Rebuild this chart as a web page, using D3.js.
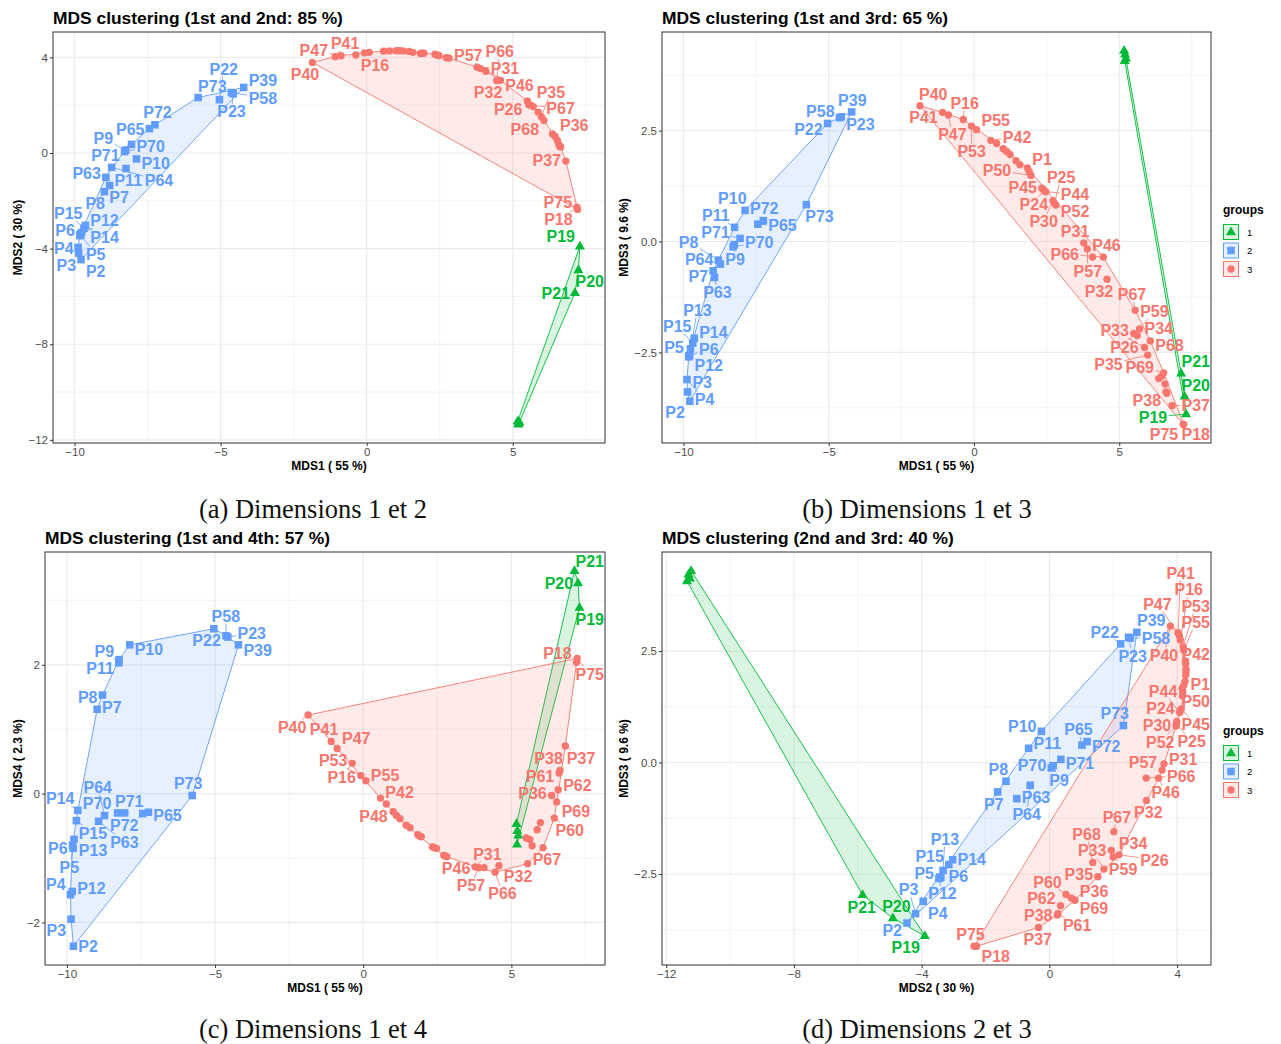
<!DOCTYPE html>
<html><head><meta charset="utf-8">
<script src="https://cdn.jsdelivr.net/npm/d3@7"></script>
<style>body{margin:0;background:#fff}svg{display:block}</style>
</head><body>
<svg id="c" width="1281" height="1044"></svg>
<script>
// ---------------- DATA ----------------
const names = ["P1","P2","P3","P4","P5","P6","P7","P8","P9","P10","P11","P12","P13","P14","P15","P16","P17","P18","P19","P20","P21","P22","P23","P24","P25","P26","P27","P28","P29","P30","P31","P32","P33","P34","P35","P36","P37","P38","P39","P40","P41","P42","P43","P44","P45","P46","P47","P48","P49","P50","P51","P52","P53","P54","P55","P56","P57","P58","P59","P60","P61","P62","P63","P64","P65","P66","P67","P68","P69","P70","P71","P72","P73","P74","P75"];
const groups = [3,2,2,2,2,2,2,2,2,2,2,2,2,2,2,3,1,3,1,1,1,2,2,3,3,3,1,1,1,3,3,3,3,3,3,3,3,3,2,3,3,3,3,3,3,3,3,3,3,3,3,3,3,3,3,3,3,2,3,3,3,3,2,2,2,3,3,3,3,2,2,2,2,3,3];
const mds1 = [1.84,-9.78,-9.86,-9.88,-9.79,-9.81,-8.98,-8.80,-8.25,-7.88,-8.24,-9.82,-9.76,-9.63,-9.68,-0.37,5.17,7.20,7.30,7.25,7.13,-5.04,-4.57,2.40,2.77,5.50,5.20,5.23,5.19,2.72,3.78,4.58,5.87,5.62,5.98,6.36,6.82,6.64,-4.21,-1.86,-1.08,0.58,1.01,2.47,2.34,4.08,-0.88,0.78,1.12,1.96,1.24,2.82,-0.08,1.45,0.09,1.58,3.90,-4.63,5.70,6.45,6.61,6.58,-8.93,-8.73,-7.44,4.45,5.55,6.07,6.53,-8.29,-8.05,-7.25,-5.77,1.90,7.22];
const mds2 = [4.16,-4.46,-4.19,-3.95,-3.43,-3.40,-1.62,-1.36,0.12,-0.25,-0.65,-3.46,-3.33,-3.03,-3.15,4.10,-11.22,-2.28,-3.90,-4.90,-5.85,2.23,2.48,4.10,3.98,2.18,-11.30,-11.26,-11.35,3.99,3.59,3.04,1.71,2.00,1.52,0.80,-0.34,0.25,2.74,3.79,4.03,4.26,4.28,4.08,4.13,3.42,4.07,4.27,4.28,4.17,4.27,3.97,4.19,4.25,4.21,4.21,3.53,2.53,1.94,0.69,0.27,0.35,-1.02,-0.60,1.02,3.03,2.02,1.36,0.52,0.06,0.36,1.18,2.32,4.18,-2.36];
const mds3 = [1.66,-3.60,-3.39,-3.11,-2.57,-2.58,-0.66,-0.42,-0.07,0.70,0.32,-2.60,-2.42,-2.18,-2.29,2.75,4.30,-4.12,-3.89,-3.49,-2.97,2.66,2.81,1.16,0.86,-2.07,4.22,4.13,4.07,0.92,-0.03,-0.85,-2.39,-2.12,-2.56,-3.09,-3.70,-3.42,2.92,3.06,2.91,2.28,2.09,1.12,1.20,-0.35,2.85,2.21,2.03,1.49,1.96,0.82,2.60,1.82,2.52,1.73,-0.17,2.79,-1.97,-3.04,-3.39,-3.21,-0.81,-0.51,0.39,-0.35,-1.55,-2.24,-2.96,-0.12,0.07,0.47,0.83,1.58,-4.12];
const mds4 = [-0.64,-2.37,-1.95,-1.57,-0.85,-0.80,1.31,1.53,2.03,2.31,2.08,-1.52,-0.71,-0.26,-0.42,0.47,-0.47,2.04,2.89,3.27,3.46,2.56,2.43,-0.84,-0.97,-0.69,-0.58,-0.65,-0.79,-0.96,-1.14,-1.12,-0.56,-0.71,-0.45,-0.03,0.74,0.36,2.31,1.22,0.81,-0.07,-0.28,-0.85,-0.83,-1.15,0.70,-0.16,-0.34,-0.67,-0.39,-0.98,0.28,-0.49,0.20,-0.53,-1.15,2.45,-0.81,-0.38,0.32,0.06,-0.43,-0.34,-0.31,-1.22,-1.09,-0.84,-0.13,-0.30,-0.30,-0.29,-0.03,-0.66,2.10];
const dimShare = ["55","30","9.6","2.3"];
const groupLevels = ["1","2","3"];
const panelTitles = ["MDS clustering (1st and 2nd: 85 %)","MDS clustering (1st and 3rd: 65 %)","MDS clustering (1st and 4th: 57 %)","MDS clustering (2nd and 3rd: 40 %)"];
const captions = ["(a) Dimensions 1 et 2","(b) Dimensions 1 et 3","(c) Dimensions 1 et 4","(d) Dimensions 2 et 3"];
const ticksA_x = [-10,-5,0,5], ticksA_y = [-12,-8,-4,0,4];
const ticksB_x = [-10,-5,0,5], ticksB_y = [-2.5,0,2.5];
const ticksC_x = [-10,-5,0,5], ticksC_y = [-2,0,2];
const ticksD_x = [-12,-8,-4,0,4], ticksD_y = [-2.5,0,2.5];
const labelsA = ["P73","P58","P39","P22","P23","P71","P72","P65","P70","P11","P10","P64","P9","P63","P7","P8","P14","P6","P15","P5","P12","P4","P3","P2","P47","P40","P41","P16","P57","P31","P46","P66","P32","P26","P35","P67","P68","P36","P37","P18","P75","P19","P20","P21"];
const labelsB = ["P23","P39","P58","P22","P73","P10","P11","P72","P9","P65","P8","P70","P71","P7","P64","P63","P14","P15","P13","P6","P12","P5","P3","P4","P2","P41","P16","P53","P40","P47","P55","P42","P1","P50","P45","P24","P30","P44","P52","P25","P31","P57","P46","P66","P32","P67","P26","P59","P68","P34","P69","P33","P35","P38","P37","P75","P18","P21","P20","P19"];
const labelsC = ["P22","P23","P10","P58","P39","P11","P9","P8","P7","P14","P70","P73","P15","P64","P72","P71","P65","P13","P63","P6","P5","P12","P4","P3","P2","P40","P41","P47","P53","P16","P42","P55","P48","P57","P31","P46","P32","P66","P67","P36","P38","P61","P62","P60","P69","P37","P75","P18","P21","P20","P19"];
const labelsD = ["P39","P23","P58","P22","P73","P10","P72","P11","P65","P9","P71","P8","P70","P7","P64","P63","P15","P14","P5","P13","P6","P12","P4","P2","P3","P40","P41","P47","P16","P53","P42","P55","P1","P50","P45","P44","P24","P30","P25","P52","P31","P66","P57","P46","P67","P32","P59","P26","P68","P33","P34","P69","P35","P60","P62","P36","P61","P38","P18","P37","P75","P21","P20","P19"];

// ---------------- STYLE / LAYOUT ----------------
const colors = {1:"#00BA38",2:"#619CFF",3:"#F8766D"};
const SANS = "'Liberation Sans', Arial, Helvetica, sans-serif";
const SERIF = "'Liberation Serif', 'Times New Roman', serif";
const LABEL_SIZE = 16;
const dims = [mds1, mds2, mds3, mds4];
const panels = [
  {xi:0, yi:1, x0:53,  x1:605,  y0:32,  y1:443, xt:ticksA_x, yt:ticksA_y, yf:d3.format("d"),   labels:labelsA, legend:false},
  {xi:0, yi:2, x0:662, x1:1211, y0:32,  y1:443, xt:ticksB_x, yt:ticksB_y, yf:d3.format(".1f"), labels:labelsB, legend:true},
  {xi:0, yi:3, x0:45,  x1:605,  y0:552, y1:965, xt:ticksC_x, yt:ticksC_y, yf:d3.format("d"),   labels:labelsC, legend:false},
  {xi:1, yi:2, x0:662, x1:1211, y0:552, y1:965, xt:ticksD_x, yt:ticksD_y, yf:d3.format(".1f"), labels:labelsD, legend:true}
];
const capCenters = [313, 917, 313, 917];
const capBase = [518, 518, 1038, 1038];
const svg = d3.select("#c");
const minus = s => s.replace("-", "\u2212");

function expand(arr){ const e = d3.extent(arr); const r = e[1]-e[0]; return [e[0]-0.05*r, e[1]+0.05*r]; }
function minors(ticks, dom){
  const step = ticks[1]-ticks[0]; const out = [];
  for (let v = ticks[0]-step/2; v <= dom[1]; v += step) if (v >= dom[0]) out.push(v);
  return out;
}
function shape(sel, g, x, y, sz){
  if (g === 1) sel.append("path").attr("d", `M${x},${y-sz*0.62}L${x+sz*0.56},${y+sz*0.35}L${x-sz*0.56},${y+sz*0.35}Z`).attr("fill", colors[1]);
  else if (g === 2) sel.append("rect").attr("x", x-sz*0.42).attr("y", y-sz*0.42).attr("width", sz*0.84).attr("height", sz*0.84).attr("fill", colors[2]);
  else sel.append("circle").attr("cx", x).attr("cy", y).attr("r", sz*0.41).attr("fill", colors[3]);
}

function layoutLabels(items, obstacles, b){
  const n = items.length;
  items.forEach((l, i) => { const a = i*2.399963; l.x = l.px + Math.cos(a)*(l.w/2+5); l.y = l.py + Math.sin(a)*(l.h/2+5); });
  const PAD = 3, R = 5, N = 1800;
  for (let it = 0; it < N; it++) {
    const k = it < 1400 ? 0.015 : 0.002;
    for (const l of items) { l.fx = (l.px-l.x)*k; l.fy = (l.py-l.y)*k; }
    for (let i = 0; i < n; i++) for (let j = i+1; j < n; j++) {
      const a = items[i], c = items[j];
      const ox = (a.w+c.w)/2 + PAD - Math.abs(a.x-c.x); if (ox <= 0) continue;
      const oy = (a.h+c.h)/2 + PAD - Math.abs(a.y-c.y); if (oy <= 0) continue;
      let dx = a.x-c.x, dy = a.y-c.y, d = Math.hypot(dx, dy);
      if (d < 1e-6) { dx = 1; dy = 0.3; d = Math.hypot(dx,dy); }
      const m = Math.min(ox, oy)*0.5;
      if (ox < oy) { const sx = Math.sign(dx) || 1; a.fx += sx*m*0.8; c.fx -= sx*m*0.8; a.fy += dy/d*m*0.2; c.fy -= dy/d*m*0.2; }
      else { const sy = Math.sign(dy) || 1; a.fy += sy*m*0.8; c.fy -= sy*m*0.8; a.fx += dx/d*m*0.2; c.fx -= dx/d*m*0.2; }
    }
    for (const l of items) for (const p of obstacles) {
      const ox = l.w/2 + R - Math.abs(l.x-p.px); if (ox <= 0) continue;
      const oy = l.h/2 + R - Math.abs(l.y-p.py); if (oy <= 0) continue;
      let dx = l.x-p.px, dy = l.y-p.py, d = Math.hypot(dx, dy);
      if (d < 1e-6) { dx = 0.2; dy = -1; d = Math.hypot(dx,dy); }
      const m = Math.min(ox, oy)*0.5;
      l.fx += dx/d*m; l.fy += dy/d*m;
    }
    for (const l of items) {
      l.x += Math.max(-4, Math.min(4, l.fx)); l.y += Math.max(-4, Math.min(4, l.fy));
      l.x = Math.max(b.x0+l.w/2+1, Math.min(b.x1-l.w/2-1, l.x));
      l.y = Math.max(b.y0+l.h/2+2, Math.min(b.y1-l.h/2-2, l.y));
    }
  }
}

panels.forEach((P, k) => {
  const xs = dims[P.xi], ys = dims[P.yi];
  const x = d3.scaleLinear().domain(expand(xs)).range([P.x0, P.x1]);
  const y = d3.scaleLinear().domain(expand(ys)).range([P.y1, P.y0]);
  const g = svg.append("g");
  g.append("rect").attr("x",P.x0).attr("y",P.y0).attr("width",P.x1-P.x0).attr("height",P.y1-P.y0).attr("fill","#fff");
  const grid = g.append("g").attr("stroke","#EBEBEB").attr("fill","none");
  minors(P.xt, x.domain()).forEach(v => grid.append("line").attr("x1",x(v)).attr("x2",x(v)).attr("y1",P.y0).attr("y2",P.y1).attr("stroke-width",0.6));
  minors(P.yt, y.domain()).forEach(v => grid.append("line").attr("y1",y(v)).attr("y2",y(v)).attr("x1",P.x0).attr("x2",P.x1).attr("stroke-width",0.6));
  P.xt.forEach(v => grid.append("line").attr("x1",x(v)).attr("x2",x(v)).attr("y1",P.y0).attr("y2",P.y1).attr("stroke-width",1.2));
  P.yt.forEach(v => grid.append("line").attr("y1",y(v)).attr("y2",y(v)).attr("x1",P.x0).attr("x2",P.x1).attr("stroke-width",1.2));

  const pts = names.map((nm, i) => ({name:nm, g:groups[i], px:x(xs[i]), py:y(ys[i])}));
  [1,2,3].forEach(gr => {
    const hull = d3.polygonHull(pts.filter(p => p.g === gr).map(p => [p.px, p.py]));
    g.append("path").attr("d", "M" + hull.join("L") + "Z")
      .attr("fill", colors[gr]).attr("fill-opacity", 0.15)
      .attr("stroke", colors[gr]).attr("stroke-width", 0.9);
  });
  const pg = g.append("g");
  pts.forEach(p => shape(pg, p.g, p.px, p.py, 9));

  const lset = new Set(P.labels);
  const items = pts.filter(p => lset.has(p.name)).map(p => Object.assign({}, p));
  const meas = svg.append("text").attr("font-family",SANS).attr("font-weight","bold").attr("font-size",LABEL_SIZE);
  items.forEach(l => { meas.text(l.name); l.w = meas.node().getComputedTextLength(); l.h = 14; });
  meas.remove();
  layoutLabels(items, pts, P);
  const lg = g.append("g");
  items.forEach(l => {
    const dx = l.px - l.x, dy = l.py - l.y;
    const hw = l.w/2 + 1.5, hh = l.h/2 + 0.5;
    const s = Math.min(Math.abs(dx) > 1e-6 ? hw/Math.abs(dx) : 1e9, Math.abs(dy) > 1e-6 ? hh/Math.abs(dy) : 1e9);
    if (s < 1) {
      const ex = l.x + dx*s, ey = l.y + dy*s;
      if (Math.hypot(l.px-ex, l.py-ey) > 7)
        lg.append("line").attr("x1",l.px).attr("y1",l.py).attr("x2",ex).attr("y2",ey).attr("stroke",colors[l.g]).attr("stroke-width",0.8);
    }
  });
  items.forEach(l => {
    lg.append("text").attr("x",l.x).attr("y",l.y+5.8).attr("text-anchor","middle")
      .attr("font-family",SANS).attr("font-weight","bold").attr("font-size",LABEL_SIZE).attr("fill",colors[l.g]).text(l.name);
  });

  g.append("rect").attr("x",P.x0).attr("y",P.y0).attr("width",P.x1-P.x0).attr("height",P.y1-P.y0).attr("fill","none").attr("stroke","#333").attr("stroke-width",1);
  const xa = g.append("g").attr("transform",`translate(0,${P.y1})`)
    .call(d3.axisBottom(x).tickValues(P.xt).tickSize(3).tickPadding(2).tickFormat(v => minus(d3.format("d")(v))));
  const ya = g.append("g").attr("transform",`translate(${P.x0},0)`)
    .call(d3.axisLeft(y).tickValues(P.yt).tickSize(3).tickPadding(2).tickFormat(v => minus(P.yf(v))));
  [xa, ya].forEach(a => {
    a.select(".domain").remove();
    a.selectAll(".tick line").attr("stroke","#333");
    a.selectAll(".tick text").attr("fill","#4D4D4D").attr("font-family",SANS).attr("font-size",11.5);
  });
  g.append("text").attr("x",P.x0).attr("y",P.y0-8).attr("font-family",SANS).attr("font-weight","bold").attr("font-size",17.4).attr("fill","#000").text(panelTitles[k]);
  g.append("text").attr("x",(P.x0+P.x1)/2).attr("y",P.y1+27).attr("text-anchor","middle").attr("font-family",SANS).attr("font-weight","bold").attr("font-size",12).text(`MDS${P.xi+1} ( ${dimShare[P.xi]} %)`);
  const yx = P.x0 < 300 ? 22 : 628;
  g.append("text").attr("transform",`translate(${yx},${(P.y0+P.y1)/2}) rotate(-90)`).attr("text-anchor","middle").attr("font-family",SANS).attr("font-weight","bold").attr("font-size",12).text(`MDS${P.yi+1} ( ${dimShare[P.yi]} %)`);
  g.append("text").attr("x",capCenters[k]).attr("y",capBase[k]).attr("text-anchor","middle").attr("font-family",SERIF).attr("font-size",26.5).attr("fill","#111").text(captions[k]);

  if (P.legend) {
    const cy = (P.y0+P.y1)/2;
    const L = g.append("g").attr("transform",`translate(1223,${cy-28})`);
    L.append("text").attr("x",0).attr("y",4).attr("font-family",SANS).attr("font-weight","bold").attr("font-size",12).text("groups");
    groupLevels.forEach((lv, i) => {
      const gy = 15 + i*18.5, gi = +lv;
      L.append("rect").attr("x",0.5).attr("y",gy).attr("width",15).attr("height",15).attr("fill",colors[gi]).attr("fill-opacity",0.15).attr("stroke",colors[gi]).attr("stroke-width",1);
      shape(L, gi, 8, gy+7.5, 9);
      L.append("text").attr("x",24).attr("y",gy+11).attr("font-family",SANS).attr("font-size",9.5).attr("fill","#000").text(lv);
    });
  }
});
</script>
</body></html>
